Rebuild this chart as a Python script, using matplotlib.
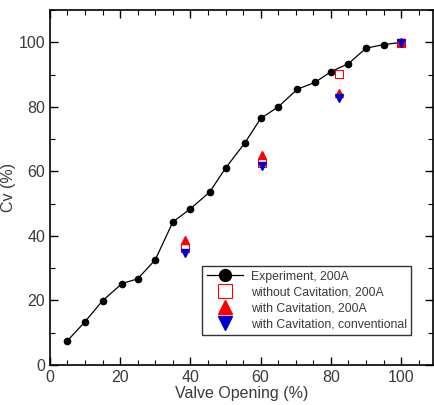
import matplotlib
matplotlib.use("Agg")
import matplotlib.pyplot as plt
from matplotlib.ticker import MultipleLocator

plt.rcParams['font.family'] = ['Liberation Sans', 'DejaVu Sans']

# Experiment, 200A
exp_x = [5, 10, 15, 20.5, 25, 30, 35, 40, 45.5, 50, 55.5, 60, 65, 70.5, 75.5, 80, 85, 90, 95, 100]
exp_y = [7.5, 13.4, 19.9, 25.2, 26.7, 32.6, 44.3, 48.4, 53.6, 61, 68.8, 76.4, 80, 85.5, 87.6, 90.9, 93.4, 98.2, 99.3, 100]

# simulation points
sim_x = [38.5, 60.3, 82.3, 100]
no_cav_y = [36.1, 62.6, 90.3, 99.8]
cav_200a_y = [38.7, 65.2, 84.3, 100]
cav_conv_y = [34.6, 61.8, 82.9, 99.8]

text_color = '#3a3a3a'

fig, ax = plt.subplots(figsize=(4.34, 4.05), dpi=100)
fig.subplots_adjust(left=0.115, right=0.997, bottom=0.099, top=0.975)

ax.plot(exp_x, exp_y, '-o', color='black', lw=0.9, ms=4.5, label='Experiment, 200A')
ax.plot(sim_x, no_cav_y, 's', mfc='white', mec='red', mew=0.8, ms=5.5, ls='none',
        label='without Cavitation, 200A')
ax.plot(sim_x, cav_200a_y, '^', color='red', ms=5.5, ls='none', label='with Cavitation, 200A')
ax.plot(sim_x, cav_conv_y, 'v', color='#0000cc', ms=5.5, ls='none', label='with Cavitation, conventional')

ax.set_xlim(0, 109)
ax.set_ylim(0, 110)
ax.xaxis.set_major_locator(MultipleLocator(20))
ax.xaxis.set_minor_locator(MultipleLocator(5))
ax.yaxis.set_major_locator(MultipleLocator(20))
ax.yaxis.set_minor_locator(MultipleLocator(10))
ax.tick_params(which='both', direction='in', top=True, right=True, colors='black',
               labelcolor=text_color, labelsize=11.5)
ax.tick_params(which='major', length=6, width=1)
ax.tick_params(which='minor', length=3.5, width=0.8)
for s in ax.spines.values():
    s.set_linewidth(1.2)

ax.set_xlabel('Valve Opening (%)', fontsize=11.5, color=text_color, labelpad=1)
ax.set_ylabel('Cv (%)', fontsize=11.5, color=text_color, labelpad=2)

leg = ax.legend(loc='lower left', bbox_to_anchor=(0.398, 0.085), borderaxespad=0,
                fontsize=8.8, frameon=True, fancybox=False, edgecolor='black',
                handlelength=3, handletextpad=0.6, labelspacing=0.32, borderpad=0.35,
                markerscale=1.9)
leg.get_frame().set_linewidth(1.0)
for t in leg.get_texts():
    t.set_color(text_color)

fig.savefig('out.png', dpi=100)
